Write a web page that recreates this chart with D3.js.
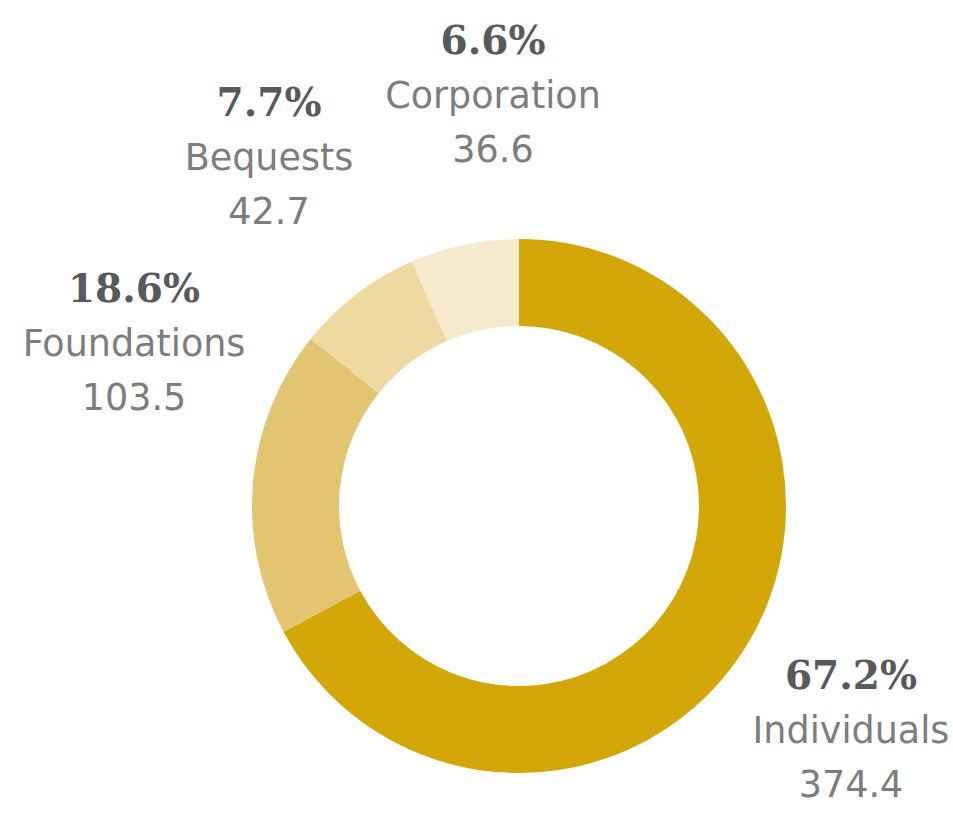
<!DOCTYPE html>
<meta charset="utf-8">
<head>
	<script src="https://d3js.org/d3.v7.min.js"></script>
	<style>
		body {
			margin: 0;
			background: #fff;
		}
		.pct {
			font-family: Georgia, "DejaVu Serif", serif;
			font-weight: bold;
			font-size: 39px;
			fill: #58595b;
			text-anchor: middle;
		}
		.lbl {
			font-family: Verdana, "DejaVu Sans", sans-serif;
			font-size: 36.5px;
			fill: #7d7d7d;
			text-anchor: middle;
		}
	</style>
</head>

<body>
	<div id="chart"></div>
</body>

<script type="text/javascript">

	var categories = ["Individuals", "Foundations", "Bequests", "Corporation"];
	var values = [374.4, 103.5, 42.7, 36.6];
	var percents = ["67.2%", "18.6%", "7.7%", "6.6%"];
	var colors = ["#d2a707", "#e3c471", "#eed9a0", "#f5eacb"];

	// where each label block sits (centre x, baseline of the percent line)
	var labelPos = [[851, 689], [134, 302], [269, 116], [493, 54]];
	var lineGap = 54;

	var width = 953,
		height = 813,
		cx = 519,
		cy = 506,
		outerR = 267,
		innerR = 180;

	var svg = d3.select("#chart").append("svg")
		.attr("width", width)
		.attr("height", height);

	var pie = d3.pie()
		.sort(null)
		.value(function(d) { return d; });

	var arc = d3.arc()
		.innerRadius(innerR)
		.outerRadius(outerR);

	var g = svg.append("g")
		.attr("transform", "translate(" + cx + "," + cy + ")");

	g.selectAll("path")
		.data(pie(values))
		.enter().append("path")
		.attr("d", arc)
		.style("fill", function(d, i) { return colors[i]; });

	var labels = svg.selectAll(".label")
		.data(categories)
		.enter().append("g")
		.attr("class", "label")
		.attr("transform", function(d, i) { return "translate(" + labelPos[i][0] + "," + labelPos[i][1] + ")"; });

	labels.append("text")
		.attr("class", "pct")
		.text(function(d, i) { return percents[i]; });

	labels.append("text")
		.attr("class", "lbl")
		.attr("y", lineGap)
		.text(function(d) { return d; });

	labels.append("text")
		.attr("class", "lbl")
		.attr("y", lineGap * 2)
		.text(function(d, i) { return d3.format(".1f")(values[i]); });
</script>
